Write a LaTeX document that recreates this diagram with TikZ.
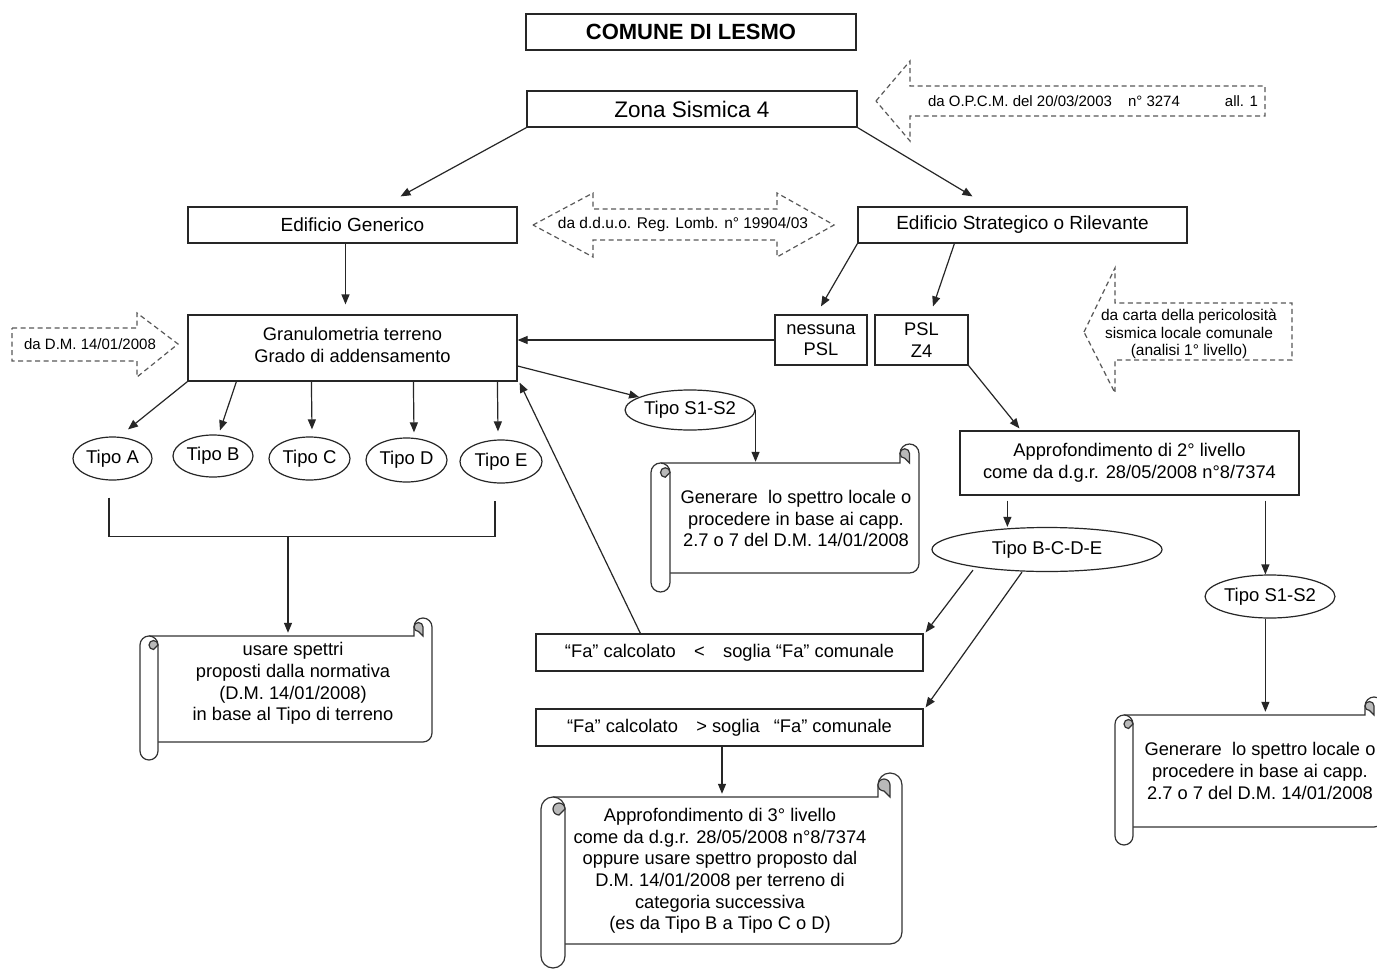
\documentclass[tikz,border=0pt]{standalone}
\usepackage{fontspec}
\setmainfont{Liberation Sans}
\usetikzlibrary{arrows.meta,shapes.geometric,calc}

\tikzset{
 nbox/.style={draw=black!85, line width=1.2pt, fill=white, inner sep=0pt, align=center, font=\fontsize{18.3}{21.5}\selectfont},
 nell/.style={ellipse, draw=black!85, line width=1.2pt, fill=white, inner sep=0pt, font=\fontsize{18.5}{21.5}\selectfont},
 arr/.style={draw=black!85, line width=1.2pt, -{Triangle[length=10pt,width=8pt]}},
 conn/.style={draw=black!85, line width=1.2pt},
 dashbox/.style={draw=black!65, line width=1.2pt, dash pattern=on 5pt off 3.5pt, fill=white},
 lbl/.style={inner sep=0pt, align=center, font=\fontsize{15}{17.5}\selectfont},
 scrtext/.style={inner sep=0pt, align=center, font=\fontsize{18.3}{21.6}\selectfont},
 scrl/.style={draw=black!80, line width=1.2pt},
}

\newcommand\drawscroll[6]{%
 \pgfmathsetmacro\skL{#2}\pgfmathsetmacro\skR{#3}\pgfmathsetmacro\skT{#4}\pgfmathsetmacro\skB{#5}\pgfmathsetmacro\skr{#6}%
 \pgfmathsetmacro\skyt{-(\skT+2*\skr)}%
 \pgfmathsetmacro\skyb{-(\skB-2*\skr)}%
 \pgfmathsetmacro\skyc{-(\skT+\skr)}%
 \pgfmathsetmacro\skyl{-(\skT+3*\skr)}%
 \pgfmathsetmacro\skyB{-\skB}%
 \fill[white] (\skL+\skr,\skyt) rectangle (\skR,\skyb);
 \fill[white] (\skR-\skr,\skyc) circle[radius=\skr];
 \draw[scrl] (\skL+\skr,\skyt) -- (\skR-2*\skr,\skyt) -- (\skR-2*\skr,\skyc) arc[start angle=180,end angle=0,radius=\skr] -- (\skR,\skyb+\skr) arc[start angle=0,end angle=-90,radius=\skr] -- (\skL+2*\skr,\skyb);
 \filldraw[scrl, fill=gray!55] (\skR-\skr,\skyt) -- (\skR-\skr,\skyc) arc[start angle=0,end angle=180,radius=0.5*\skr] arc[start angle=180,end angle=270,radius=0.5*\skr] -- cycle;
 \filldraw[scrl, fill=white] (\skL,\skyl) arc[start angle=180,end angle=0,radius=\skr] -- (\skL+2*\skr,\skyB+\skr) arc[start angle=0,end angle=-180,radius=\skr] -- cycle;
 \filldraw[scrl, fill=gray!55] (\skL+2*\skr,\skyl) arc[start angle=0,end angle=180,radius=0.5*\skr] arc[start angle=180,end angle=270,radius=0.5*\skr] -- cycle;
 \node[inner sep=0pt, minimum width={\skR-\skL-2*\skr}, minimum height={\skyt-\skyb}] (#1) at ({(\skL+2*\skr+\skR)/2},{(\skyt+\skyb)/2}) {};
}

\begin{document}
\begin{tikzpicture}[x=1pt,y=1pt]
\useasboundingbox (0,0) rectangle (1377,-969);
\fill[white] (0,0) rectangle (1377,-969);

% dashed arrows
\draw[dashbox] (876,-101) -- (910,-61) -- (910,-86) -- (1265,-86) -- (1265,-116) -- (910,-116) -- (910,-141) -- cycle;
\node[lbl] (opcm) at (1093,-101) {da O.P.C.M. del 20/03/2003\hspace{16pt}n° 3274\hspace{45pt}all. 1};

\draw[dashbox] (533,-225) -- (593,-193) -- (593,-209) -- (777,-209) -- (777,-193) -- (834,-225) -- (777,-257) -- (777,-240) -- (593,-240) -- (593,-257) -- cycle;
\node[lbl, font=\fontsize{15.5}{18}\selectfont] (dduo) at (683,-224) {da d.d.u.o. Reg. Lomb. n° 19904/03};

\draw[dashbox] (12,-328) -- (137,-328) -- (137,-313) -- (178,-344) -- (137,-377) -- (137,-361) -- (12,-361) -- cycle;
\node[lbl] (dm) at (90,-344) {da D.M. 14/01/2008};

\draw[dashbox] (1084,-332) -- (1115,-268) -- (1115,-303) -- (1292,-303) -- (1292,-360) -- (1115,-360) -- (1115,-393) -- cycle;
\node[lbl, font=\fontsize{15.5}{17.5}\selectfont] (carta) at (1189,-334) {da carta della pericolosità\\sismica locale comunale\\(analisi 1° livello)};

% boxes
\node[nbox, minimum width=330, minimum height=36, font=\bfseries\fontsize{22}{26}\selectfont] (title) at (691,-32) {COMUNE DI LESMO};
\node[nbox, minimum width=330, minimum height=36, font=\fontsize{22.5}{26}\selectfont] (zona) at (692,-109) {Zona Sismica 4};
\node[nbox, minimum width=329, minimum height=36, font=\fontsize{19}{22}\selectfont] (gen) at (352.5,-225) {Edificio Generico};
\node[nbox, minimum width=329, minimum height=36, font=\fontsize{19}{22}\selectfont] (strat) at (1022.5,-225) {Edificio Strategico o Rilevante};
\node[nbox, minimum width=329, minimum height=66] (gran) at (352.5,-348) {};
\node[align=center, inner sep=0pt, font=\fontsize{18.3}{21.5}\selectfont] (grantext) at (352.5,-345) {Granulometria terreno\\Grado di addensamento};
\node[nbox, minimum width=92, minimum height=50] (npsl) at (821,-340) {nessuna\\PSL};
\node[nbox, minimum width=93, minimum height=50] (psl) at (921.5,-340) {PSL\\Z4};
\node[nbox, minimum width=339, minimum height=64] (app2) at (1129.5,-463) {Approfondimento di 2° livello\\come da d.g.r. 28/05/2008 n°8/7374};
\node[nbox, minimum width=387, minimum height=37] (fa1) at (729.5,-652.5) {“Fa” calcolato\quad<\quad soglia “Fa” comunale};
\node[nbox, minimum width=387, minimum height=37] (fa2) at (729.5,-727.5) {“Fa” calcolato\quad> soglia\hspace{14pt}“Fa” comunale};

% ellipses
\node[nell, minimum width=79, minimum height=43] (ta) at (112.5,-458.5) {Tipo A};
\node[nell, minimum width=80, minimum height=42] (tb) at (213,-456) {Tipo B};
\node[nell, minimum width=81, minimum height=43] (tc) at (309.5,-458.5) {Tipo C};
\node[nell, minimum width=81, minimum height=44] (td) at (406.5,-460) {Tipo D};
\node[nell, minimum width=82, minimum height=43] (te) at (501,-461.5) {Tipo E};
\node[nell, minimum width=124, minimum height=40] (s12a) at (690,-410) {Tipo S1-S2};
\node[nell, minimum width=230, minimum height=44] (bcde) at (1047,-549.5) {Tipo B-C-D-E};
\node[nell, minimum width=126, minimum height=43] (s12b) at (1270,-596.5) {Tipo S1-S2};

% scrolls
\drawscroll{sc1}{140}{432}{618}{760}{9}
\node[scrtext] (t1) at (293,-683.5) {usare spettri\\proposti dalla normativa\\(D.M. 14/01/2008)\\in base al Tipo di terreno};
\drawscroll{sc2}{651}{919}{444}{592}{9.5}
\node[scrtext] (t2) at (796,-518.5) {Generare\ \ lo spettro locale o\\procedere in base ai capp.\\2.7 o 7 del D.M. 14/01/2008};
\drawscroll{sc3}{541}{902}{773}{968}{12}
\node[scrtext] (t3) at (720,-871) {Approfondimento di 3° livello\\come da d.g.r. 28/05/2008 n°8/7374\\oppure usare spettro proposto dal\\D.M. 14/01/2008 per terreno di\\categoria successiva\\(es da Tipo B a Tipo C o D)};
\drawscroll{sc4}{1115}{1383}{697}{845}{9}
\node[scrtext] (t4) at (1260,-771) {Generare\ \ lo spettro locale o\\procedere in base ai capp.\\2.7 o 7 del D.M. 14/01/2008};

% connectors
\draw[arr] (zona.south west) -- ([xshift=48,yshift=10]gen.north);
\draw[arr] (zona.south east) -- ([xshift=-50,yshift=10]strat.north);
\draw[arr] ([xshift=-7]gen.south) -- ([xshift=-7,yshift=10]gran.north);
\draw[arr] (gran.south west) -- ([xshift=15.5,yshift=7]ta.north);
\draw[arr] ([xshift=49]gran.south west) -- ([xshift=7,yshift=4]tb.north);
\draw[arr] ([xshift=124]gran.south west) -- ([xshift=2.5,yshift=7]tc.north);
\draw[arr] ([xshift=226]gran.south west) -- ([xshift=7.5,yshift=5]td.north);
\draw[arr] ([xshift=310]gran.south west) -- ([xshift=-3,yshift=8]te.north);

\coordinate (bl) at ([xshift=-3.5,yshift=-17]ta.south);
\coordinate (br) at ([xshift=-6,yshift=-17]te.south);
\coordinate (bk) at ([yshift=-39]bl);
\coordinate (bm) at ($(bk)+(179,0)$);
\draw[conn] (bl) -- (bk) -| (br);
\draw[arr] (bm) -- ($(bm |- sc1.north)+(0,3)$);

\draw[arr] ([yshift=-18]gran.east) -- (s12a);
\draw[arr] (s12a.east) -- ($(s12a.east |- sc2.north)+(0,1)$);
\draw[arr] (npsl.west) -- (npsl.west -| gran.east);
\draw[arr] (strat.south west) -- ([yshift=8]npsl.north);
\draw[arr] ([xshift=97]strat.south west) -- ([xshift=11.5,yshift=8]psl.north);
\draw[arr] (psl.south east) -- ([xshift=60,yshift=2]app2.north west);
\coordinate (a2l) at ([xshift=48,yshift=-5]app2.south west);
\draw[arr] (a2l) -- (a2l |- bcde.north);
\coordinate (a2r) at ([xshift=306,yshift=-5]app2.south west);
\draw[arr] (a2r) -- (a2r |- s12b.north);
\draw[arr] (s12b.south -| a2r) -- ($(a2r |- sc4.north)+(0,3)$);
\draw[arr] ([xshift=-74,yshift=2]bcde.south) -- ([xshift=2,yshift=1]fa1.north east);
\draw[arr] ([xshift=-25]bcde.south) -- ([xshift=2,yshift=1]fa2.north east);
\draw[arr] ([xshift=105]fa1.north west) -- ([xshift=2,yshift=-1]gran.south east);
\coordinate (f2s) at ([xshift=-7.5]fa2.south);
\draw[arr] (f2s) -- ($(f2s |- sc3.north)+(0,3)$);
\end{tikzpicture}
\end{document}
